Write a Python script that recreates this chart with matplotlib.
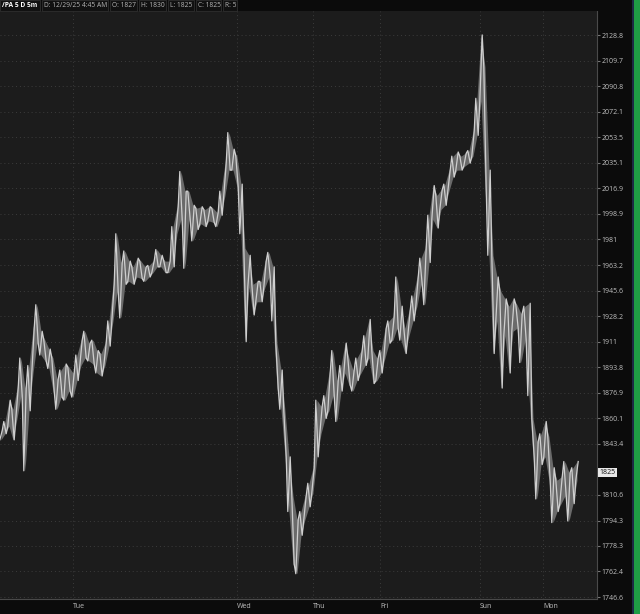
import numpy as np
import matplotlib
matplotlib.use("Agg")
import matplotlib.pyplot as plt
from matplotlib.patches import Rectangle
from matplotlib.ticker import NullLocator

plt.rcParams['font.family'] = ['Open Sans', 'DejaVu Sans']

hi = [1852, 1858, 1872, 1866, 1880, 1900, 1880, 1895, 1920, 1936,
      1918, 1912, 1906, 1900, 1886, 1892, 1896, 1894, 1890, 1902,
      1912, 1918, 1910, 1912, 1905, 1903, 1910, 1925, 1950, 1985,
      1965, 1973, 1966, 1962, 1968, 1966, 1962, 1963, 1966, 1974,
      1970, 1966, 1966, 1990, 2004, 2029, 2015, 2015, 2005, 2003,
      2004, 2002, 2004, 2003, 2000, 2015, 2035, 2057, 2045, 2040,
      2020, 1975, 1970, 1950, 1952, 1952, 1966, 1972, 1962, 1910,
      1892, 1865, 1835, 1810, 1795, 1800, 1810, 1818, 1828, 1872,
      1868, 1875, 1890, 1905, 1885, 1895, 1910, 1900, 1892, 1900,
      1905, 1915, 1926, 1905, 1900, 1905, 1920, 1925, 1928, 1955,
      1935, 1920, 1932, 1942, 1955, 1968, 1975, 1998, 2019, 2012,
      2016, 2020, 2030, 2040, 2043, 2040, 2042, 2044, 2058, 2082,
      2129, 2105, 2030, 1970, 1955, 1945, 1940, 1935, 1940, 1936,
      1930, 1935, 1937, 1860, 1845, 1850, 1858, 1848, 1828, 1820,
      1822, 1832, 1825, 1828, 1832]
lo = [1846, 1850, 1855, 1846, 1860, 1875, 1826, 1865, 1890, 1910,
      1902, 1898, 1893, 1878, 1866, 1874, 1872, 1878, 1874, 1885,
      1895, 1900, 1898, 1896, 1890, 1888, 1895, 1908, 1925, 1945,
      1927, 1950, 1952, 1950, 1955, 1954, 1952, 1955, 1958, 1962,
      1962, 1958, 1958, 1962, 1985, 1995, 1961, 1995, 1980, 1988,
      1992, 1990, 1994, 1993, 1990, 1998, 2012, 2030, 2030, 2018,
      1985, 1911, 1948, 1929, 1938, 1938, 1948, 1955, 1925, 1880,
      1866, 1835, 1800, 1767, 1761, 1785, 1795, 1803, 1812, 1835,
      1850, 1860, 1865, 1875, 1858, 1878, 1890, 1882, 1878, 1885,
      1890, 1895, 1900, 1883, 1885, 1890, 1900, 1910, 1912, 1920,
      1912, 1903, 1915, 1925, 1935, 1950, 1936, 1965, 1995, 1989,
      2002, 2005, 2015, 2025, 2030, 2030, 2033, 2035, 2040, 2055,
      2080, 2017, 1970, 1903, 1925, 1880, 1915, 1890, 1918, 1920,
      1897, 1912, 1875, 1835, 1808, 1830, 1835, 1820, 1793, 1800,
      1805, 1810, 1794, 1805, 1820]

price_ticks = [2128.8, 2109.7, 2090.8, 2072.1, 2053.5, 2035.1, 2016.9, 1998.9,
               1981, 1963.2, 1945.6, 1928.2, 1911, 1893.8, 1876.9, 1860.1,
               1843.4, 1810.6, 1794.3, 1778.3, 1762.4, 1746.6]
days = ["Tue", "Wed", "Thu", "Fri", "Sun", "Mon"]
day_pos = [18, 59, 78, 94.75, 119.75, 135.5]
last_price = 1825
header = ["D: 12/29/25 4:45 AM", "O: 1827", "H: 1830", "L: 1825", "C: 1825", "R: 5"]

bg = '#1c1c1c'
dark = '#0b0b0b'
txt = '#c0c0c0'

fig = plt.figure(figsize=(6.4, 6.14), dpi=100, facecolor=dark)
W, H = 640.0, 614.0
ax = fig.add_axes([0, 1 - 599 / H, 597 / W, 588 / H], facecolor=bg)

x = np.arange(len(hi))
hi_a, lo_a = np.array(hi, float), np.array(lo, float)
# dense bar texture: walk low->high, high->low alternately through every bar
flip = (x % 2 == 1)
first = np.where(flip, hi_a, lo_a)
second = np.where(flip, lo_a, hi_a)
zx = np.column_stack([x - 0.3, x + 0.3]).ravel()
zy = np.column_stack([first, second]).ravel()
ax.fill_between(x, lo_a, hi_a, color='#6a6a6a', lw=0, zorder=2)
ax.plot(zx, zy, color='#cfcfcf', lw=0.9, zorder=3)

ax.set_yscale('log')
ax.set_ylim(1745.4, 2147)
ax.set_xlim(-0.25, 149)
ax.yaxis.tick_right()
ax.set_yticks(price_ticks)
ax.set_yticklabels([str(v) for v in price_ticks])
ax.yaxis.set_minor_locator(NullLocator())
ax.set_xticks(day_pos)
ax.set_xticklabels(days, ha='left')
ax.tick_params(axis='y', direction='out', length=2, pad=1, colors='#777777',
               labelcolor=txt, labelsize=5)
ax.tick_params(axis='x', length=0, pad=3, labelcolor=txt, labelsize=5)
ax.grid(True, color='#3c3c3c', ls=(0, (1, 3)), lw=0.7, zorder=1)
ax.set_axisbelow(True)
for s in ['top', 'left']:
    ax.spines[s].set_visible(False)
for s in ['right', 'bottom']:
    ax.spines[s].set_color('#4a4a4a')
    ax.spines[s].set_linewidth(0.8)

# last price marker on the axis
ax.text(1.004, last_price, str(last_price), transform=ax.get_yaxis_transform(),
        fontsize=5, color='#111111', va='center', ha='left',
        bbox=dict(boxstyle='square,pad=0.15', fc='#e8e8e8', ec='none'))

# header strip with boxed fields
fig.patches.append(Rectangle((0, 1 - 11 / H), 1, 11 / H, transform=fig.transFigure,
                             fc=dark, ec='none', zorder=0))
boxes = [(0, 40), (42, 108), (110, 137), (139, 166), (168, 194), (196, 221), (223, 237)]
labels = ["/PA 5 D 5m"] + header
for (x0, x1), t in zip(boxes, labels):
    fig.patches.append(Rectangle((x0 / W, 1 - 10.5 / H), (x1 - x0) / W, 10 / H,
                                 transform=fig.transFigure, fc='#111111',
                                 ec='#2f2f2f', lw=0.6))
    bold = t.startswith("/PA")
    fig.text((x0 + 2) / W, 1 - 5.6 / H, t, fontsize=4.8,
             fontweight='bold' if bold else 'normal',
             color='white' if bold else '#b5b5b5', va='center', ha='left')

# side strip
fig.patches.append(Rectangle((632 / W, 0), 2 / W, 1, transform=fig.transFigure,
                             fc='#1d2a44', ec='none'))
fig.patches.append(Rectangle((634 / W, 0), 6 / W, 1, transform=fig.transFigure,
                             fc='#1f9d45', ec='none'))

fig.savefig("out.png", dpi=100, facecolor=dark)
